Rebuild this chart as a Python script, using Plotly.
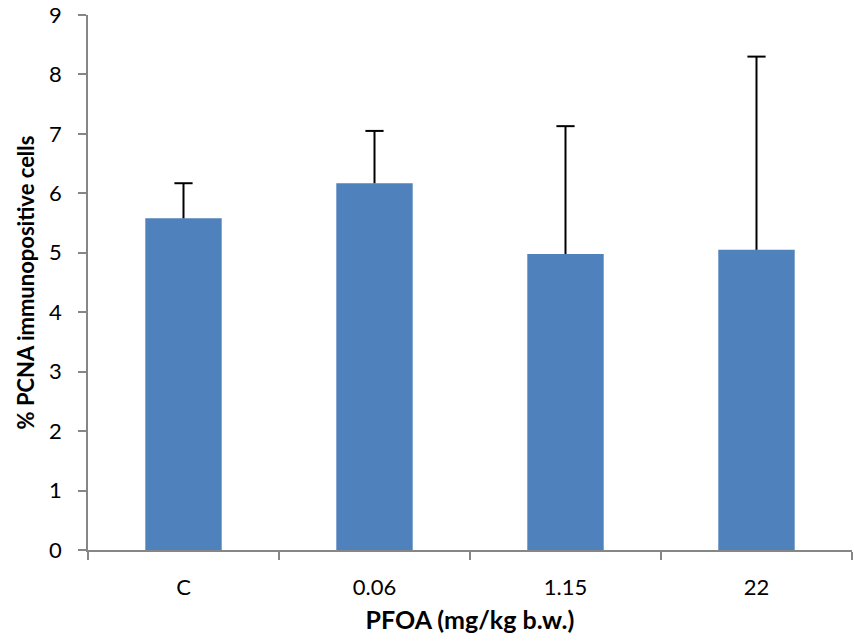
import plotly.graph_objects as go

categories = ["C", "0.06", "1.15", "22"]
values = [5.58, 6.17, 4.98, 5.05]
errors_up = [0.59, 0.88, 2.15, 3.25]
y_ticks = [0, 1, 2, 3, 4, 5, 6, 7, 8, 9]

FONT = "Lato, Open Sans, sans-serif"
AXIS_GRAY = "#868686"

cap_y = [v + e for v, e in zip(values, errors_up)]

fig = go.Figure()
fig.add_trace(go.Bar(
    x=categories,
    y=values,
    width=0.4,
    marker=dict(color="#4F81BD", line=dict(width=0)),
    error_y=dict(
        type="data",
        symmetric=False,
        array=errors_up,
        arrayminus=[0] * len(values),
        color="black",
        thickness=2,
        width=0,
    ),
))
fig.add_trace(go.Scatter(
    x=categories,
    y=cap_y,
    mode="markers",
    marker=dict(symbol="line-ew-open", size=13, color="black",
                line=dict(color="black", width=2)),
    hoverinfo="skip",
))

fig.update_layout(
    width=854,
    height=642,
    margin=dict(l=88, r=2, t=15, b=92),
    plot_bgcolor="white",
    paper_bgcolor="white",
    showlegend=False,
    font=dict(family=FONT, color="black"),
    xaxis=dict(
        type="category",
        automargin=False,
        showline=True,
        linecolor=AXIS_GRAY,
        linewidth=1.5,
        ticks="outside",
        tickson="boundaries",
        ticklen=8,
        tickcolor=AXIS_GRAY,
        tickwidth=1.5,
        ticklabelstandoff=17,
        tickfont=dict(size=22, family=FONT),
        showgrid=False,
        title=dict(text="<b>PFOA (mg/kg b.w.)</b>", font=dict(size=25, family=FONT), standoff=12),
    ),
    yaxis=dict(
        range=[0, 9],
        automargin=False,
        tickvals=y_ticks,
        showline=True,
        linecolor=AXIS_GRAY,
        linewidth=1.5,
        ticks="outside",
        ticklen=8,
        tickcolor=AXIS_GRAY,
        tickwidth=1.5,
        ticklabelstandoff=12,
        ticklabeloverflow="allow",
        tickfont=dict(size=22, family=FONT),
        showgrid=False,
        zeroline=False,
        title=dict(text="<b>% PCNA immunopositive cells</b>", font=dict(size=22, family=FONT), standoff=8),
    ),
)

fig.write_html("out.html", config={"displayModeBar": False},
               post_script="document.body.style.margin='0';")
